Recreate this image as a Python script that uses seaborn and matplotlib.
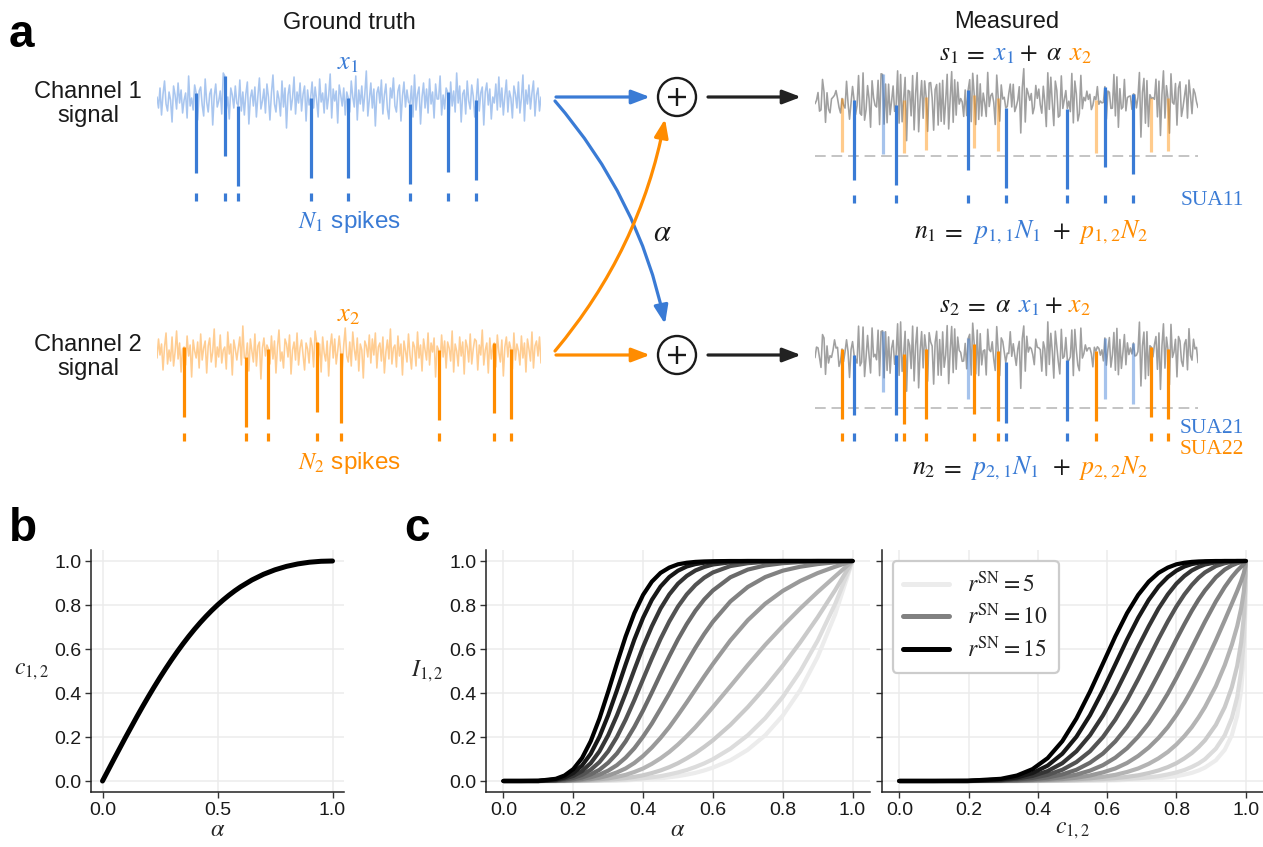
import numpy as np
import pandas as pd
import matplotlib
matplotlib.use("Agg")
import matplotlib.pyplot as plt
import seaborn as sns
from matplotlib.patches import Circle, FancyArrowPatch
from matplotlib.lines import Line2D

# ------------------------------------------------------------------
# Data: panels b and c
# ------------------------------------------------------------------
alpha_grid = [0.0, 0.05, 0.1, 0.15, 0.175, 0.2, 0.225, 0.25, 0.275, 0.3,
              0.325, 0.35, 0.375, 0.4, 0.425, 0.45, 0.475, 0.5, 0.525, 0.55,
              0.575, 0.6, 0.65, 0.7, 0.75, 0.8, 0.85, 0.9, 0.95, 1.0]
c12_values = [0.0, 0.0998, 0.198, 0.2934, 0.3396, 0.3846, 0.4283, 0.4706, 0.5113, 0.5505,
              0.5879, 0.6236, 0.6575, 0.6897, 0.72, 0.7484, 0.7751, 0.8, 0.8231, 0.8445,
              0.8643, 0.8824, 0.9139, 0.9396, 0.96, 0.9756, 0.9869, 0.9945, 0.9987, 1.0]
r_sn_levels = [5, 6, 7, 8, 9, 10, 11, 12, 13, 14, 15]
legend_levels = [5, 10, 15]

I_r05 = [0, 0, 0, 0, 0, 0, 0, 0.001, 0.001, 0.002, 0.002, 0.003, 0.005, 0.007, 0.009,
         0.012, 0.017, 0.022, 0.029, 0.037, 0.048, 0.061, 0.094, 0.142, 0.208, 0.297,
         0.413, 0.564, 0.757, 1.0]
I_r06 = [0, 0, 0, 0, 0, 0, 0.001, 0.001, 0.002, 0.003, 0.004, 0.006, 0.009, 0.012, 0.017,
         0.022, 0.030, 0.039, 0.050, 0.064, 0.080, 0.099, 0.147, 0.208, 0.286, 0.382,
         0.498, 0.638, 0.804, 1.0]
I_r07 = [0, 0, 0, 0, 0, 0.001, 0.001, 0.002, 0.004, 0.006, 0.009, 0.013, 0.019, 0.026, 0.036,
         0.048, 0.063, 0.081, 0.103, 0.127, 0.155, 0.185, 0.255, 0.336, 0.426, 0.524,
         0.630, 0.744, 0.867, 1.0]
I_r08 = [0, 0, 0, 0, 0.001, 0.001, 0.003, 0.005, 0.008, 0.012, 0.019, 0.028, 0.041, 0.057, 0.078,
         0.103, 0.132, 0.166, 0.204, 0.245, 0.290, 0.336, 0.431, 0.527, 0.619, 0.704,
         0.784, 0.859, 0.930, 1.0]
I_r09 = [0, 0, 0, 0.001, 0.001, 0.003, 0.005, 0.009, 0.015, 0.025, 0.039, 0.057, 0.082, 0.114, 0.152,
         0.196, 0.245, 0.300, 0.357, 0.416, 0.475, 0.532, 0.639, 0.731, 0.806, 0.864,
         0.909, 0.945, 0.974, 1.0]
I_r10 = [0, 0, 0, 0.001, 0.002, 0.005, 0.009, 0.017, 0.029, 0.047, 0.072, 0.106, 0.149, 0.202, 0.261,
         0.328, 0.397, 0.469, 0.539, 0.606, 0.668, 0.724, 0.816, 0.882, 0.927, 0.956,
         0.974, 0.986, 0.994, 1.0]
I_r11 = [0, 0, 0, 0.002, 0.004, 0.008, 0.016, 0.030, 0.051, 0.083, 0.125, 0.180, 0.246, 0.321, 0.402,
         0.486, 0.567, 0.644, 0.713, 0.774, 0.825, 0.866, 0.926, 0.961, 0.980, 0.990,
         0.995, 0.998, 0.999, 1.0]
I_r12 = [0, 0, 0, 0.003, 0.007, 0.014, 0.028, 0.051, 0.086, 0.135, 0.200, 0.279, 0.368, 0.463, 0.557,
         0.646, 0.725, 0.793, 0.848, 0.891, 0.924, 0.948, 0.977, 0.990, 0.996, 0.998,
         0.999, 1.0, 1.0, 1.0]
I_r13 = [0, 0, 0, 0.004, 0.011, 0.023, 0.045, 0.081, 0.135, 0.208, 0.298, 0.399, 0.506, 0.610, 0.703,
         0.784, 0.848, 0.897, 0.932, 0.957, 0.973, 0.984, 0.994, 0.998, 0.999, 1.0,
         1.0, 1.0, 1.0, 1.0]
I_r14 = [0, 0, 0, 0.007, 0.016, 0.036, 0.070, 0.124, 0.201, 0.299, 0.412, 0.530, 0.643, 0.742, 0.823,
         0.884, 0.927, 0.956, 0.975, 0.986, 0.992, 0.996, 0.999, 1.0, 1.0, 1.0,
         1.0, 1.0, 1.0, 1.0]
I_r15 = [0, 0, 0.001, 0.010, 0.025, 0.054, 0.104, 0.181, 0.284, 0.406, 0.534, 0.657, 0.763, 0.846, 0.906,
         0.946, 0.970, 0.985, 0.992, 0.996, 0.998, 0.999, 1.0, 1.0, 1.0, 1.0,
         1.0, 1.0, 1.0, 1.0]
I_curves = [I_r05, I_r06, I_r07, I_r08, I_r09, I_r10, I_r11, I_r12, I_r13, I_r14, I_r15]

# ------------------------------------------------------------------
# Data: panel a (noise traces in tenths of a noise unit, spike times)
# ------------------------------------------------------------------
x1_noise_tenths = [
    3, -8, 12, -15, 6, 19, -4, -11, 8, 0, -22, 14, 5, -9, 17, -3,
    10, -13, 0, 7, -18, 24, -6, 2, -10, 15, 7, -20, 9, 13, -5, -16,
    21, -2, -12, 6, 11, -25, 4, 16, -7, -1, 9, -14, 27, 24, -9, 3,
    -19, 12, 5, -8, 14, -3, -6, 20, -11, 8, -15, 6, 18, -24, 2, 10,
    -6, 13, -17, 4, 22, -9, -1, 11, -13, 16, 3, -20, 7, 25, -4, -12,
    9, 1, -16, 19, -7, 12, -28, 5, 15, -10, 2, 23, -14, 8, -3, 17,
    -11, 6, 14, -21, 10, -5, 2, 18, -8, 13, 0, -17, 21, -2, 7, -13,
    16, -9, 4, 26, -18, 11, -1, 9, -23, 15, 5, -6, 12, -15, 8, 2,
    -12, 19, 3, -7, 24, -20, 10, -4, 14, -11, 6, 29, -16, 1, 17, -8,
    11, -26, 7, 13, -3, 20, -14, 5, 16, -9, -19, 12, 2, 22, -6, -12,
    9, 15, -21, 4, 18, -7, 10, -2, -4, 14, -17, 25, -10, 6, 13, -24,
    3, 17, -8, 11, -13, 21, -4, 8, -18, 16, 1, 1, 24, -15, 5, -9,
    12, 8, -20, 18, -6, 9, -12, 27, -3, 14, -22, 6, 10, -14, 19, -1,
    -9, 15, 4, -17, 0, 21, -11, 7, 13, -25, 8, 17, -5, 11, -19, 3,
    -3, 16, -10, 23, -7, 12, -15, 4, 20, -12, 9, 2, -18, 14, 6, -8,
    18, -13, 2, 25, -21, 10, -4, 15, -9, 7, 19, -16, 5, 12, -11, 3]
x2_noise_tenths = [
    -5, 14, -2, 9, -17, 6, 20, -11, 3, -8, 16, -13, 1, 22, -6, 10,
    -19, 4, 6, -12, 17, -3, 8, -24, 13, 2, -5, 11, -15, 19, -7, 5,
    12, -20, 7, 15, -9, 1, 24, -14, 6, -4, 18, -10, 3, 6, -16, 21,
    -1, 9, -22, 13, 4, -7, 5, 16, -12, 27, -5, -4, 10, -18, 14, 2,
    -9, 19, -13, 7, 11, -26, 5, 15, -3, 8, 4, -11, 17, -6, 12, -20,
    6, 23, -8, 1, -15, 14, 9, -4, 18, -21, 3, 11, -7, 20, -12, 5,
    13, -2, -17, 10, 4, -10, 15, 7, -14, 22, 11, -6, 9, -19, 16, 0,
    -8, 12, -23, 6, 19, -5, 14, -11, 2, 17, 0, -16, 8, 25, -3, -9,
    11, -13, 21, 4, -7, 15, -18, 9, 3, -25, 12, 7, -4, 18, -10, 14,
    -2, 20, -15, 6, 10, -8, 16, -20, 1, 13, -6, 24, -11, 5, 8, -14,
    17, -3, 9, -22, 12, 2, -9, 19, -2, -16, 11, 6, -13, 21, -5, 8,
    -18, 14, 3, -7, 20, -12, 10, 1, 15, -24, 7, 3, -10, 18, -4, 12,
    -15, 11, 5, -8, 22, -19, 9, 2, -13, 16, -3, 11, -21, 13, 6, -9,
    19, -11, 4, 14, 12, -17, 8, -2, 23, -12, 3, 10, -20, 15, -6, 7,
    10, -14, 18, 1, -9, 13, -23, 6, 16, -4, 11, 4, -16, 20, -7, 9,
    2, -12, 17, -5, 10, -19, 14, 4, -8, 21, -15, 7, 12, -3, 16, -10]
spike_idx_ch1 = [26, 45, 54, 102, 127, 168, 193, 212]
spike_idx_ch2 = [18, 59, 74, 106, 122, 187, 224, 235]
spike_amp_ch1 = 8.0
spike_amp_ch2 = 7.0
mix_alpha = 0.76
threshold = -5.3

# ------------------------------------------------------------------
# Style
# ------------------------------------------------------------------
sns.set_theme(style="ticks")
plt.rcParams['font.family'] = ['Liberation Sans', 'DejaVu Sans']
plt.rcParams['mathtext.fontset'] = 'stix'

BLUE = '#3a7bd5'
ORANGE = '#ff8c00'
LBLUE = '#a9c6ef'
LORANGE = '#ffcd92'
GRAY = '#a0a0a0'
K = '#1a1a1a'

W, H = 1263, 847
fig = plt.figure(figsize=(W / 100, H / 100), dpi=100)

# ------------------------------------------------------------------
# Panel a: traces
# ------------------------------------------------------------------
x1 = np.array(x1_noise_tenths) / 10.0
x2 = np.array(x2_noise_tenths) / 10.0
N = len(x1)
t = np.arange(N)
s1 = x1 + mix_alpha * x2
s2 = mix_alpha * x1 + x2
i1 = np.array(spike_idx_ch1)
i2 = np.array(spike_idx_ch2)


def trace_ax(px0, px1, yc):
    top, bottom = yc - 60, yc + 120
    ax = fig.add_axes([px0 / W, 1 - bottom / H, (px1 - px0) / W, (bottom - top) / H])
    ax.set_xlim(0, N - 1)
    ax.set_ylim(-12, 6)
    ax.axis('off')
    return ax


def raster(ax, idx, y0, col):
    if len(idx):
        ax.vlines(idx, y0, y0 - 0.8, color=col, lw=2.3)


# ground truth channel 1
ax = trace_ax(157, 541, 100)
ax.plot(t, x1, color=LBLUE, lw=1.15)
ax.vlines(i1, x1[i1], x1[i1] - spike_amp_ch1, color=BLUE, lw=2.3)
raster(ax, i1, -9.3, BLUE)

# ground truth channel 2
ax = trace_ax(157, 541, 353)
ax.plot(t, x2, color=LORANGE, lw=1.15)
ax.vlines(i2, x2[i2], x2[i2] - spike_amp_ch2, color=ORANGE, lw=2.3)
raster(ax, i2, -8.0, ORANGE)


def measured(yc, sig, amp_b, amp_o, tick_y, ticks_orange):
    ax = trace_ax(815, 1198, yc)
    ax.plot(t, sig, color=GRAY, lw=1.15)
    ax.axhline(threshold, color='#c4c4c4', lw=1.4, ls=(0, (5.5, 3)))
    det_b, det_o = [], []
    for idx, amp, col, det in ((i2, amp_o, ORANGE, det_o), (i1, amp_b, BLUE, det_b)):
        for i in idx:
            bot = sig[i] - amp
            hit = bot < threshold
            ax.vlines(i, sig[i], bot, color=col, lw=2.3, alpha=1.0 if hit else 0.45)
            if hit:
                det.append(i)
    raster(ax, det_b, tick_y, BLUE)
    if ticks_orange:
        raster(ax, det_o, tick_y, ORANGE)


measured(103, s1, spike_amp_ch1, mix_alpha * spike_amp_ch2, -9.2, False)
measured(355, s2, mix_alpha * spike_amp_ch1, spike_amp_ch2, -7.8, True)

# ------------------------------------------------------------------
# Panel b
# ------------------------------------------------------------------
def style_axes(ax):
    ax.set_xlim(-0.05, 1.05)
    ax.set_ylim(-0.05, 1.05)
    ax.grid(True, color='#ececec', lw=1.1)
    ax.set_axisbelow(True)
    for s in ('top', 'right'):
        ax.spines[s].set_visible(False)
    for s in ('left', 'bottom'):
        ax.spines[s].set_color('#222222')
        ax.spines[s].set_linewidth(1.1)
    ax.tick_params(direction='out', length=4, width=1, color='#333333',
                   labelcolor='#1a1a1a', labelsize=14, pad=3)
    ax.set_yticks([0, 0.2, 0.4, 0.6, 0.8, 1.0])


ax_b = fig.add_axes([91 / W, (H - 792) / H, 253 / W, 242 / H])
df_b = pd.DataFrame({'alpha': alpha_grid, 'c12': c12_values})
sns.lineplot(data=df_b, x='alpha', y='c12', color='black', lw=3.6,
             estimator=None, ax=ax_b)
style_axes(ax_b)
ax_b.set_xticks([0, 0.5, 1.0])
ax_b.set_xlabel(r'$\alpha$', fontsize=17.5, va='center')
ax_b.xaxis.set_label_coords(0.5, -0.158)
ax_b.set_ylabel(r'$c_{1,2}$', fontsize=17, rotation=0, ha='center', va='center')
ax_b.yaxis.set_label_coords(-0.233, 0.5)

# ------------------------------------------------------------------
# Panel c
# ------------------------------------------------------------------
rows = []
for r, vals in zip(r_sn_levels, I_curves):
    for a, c, v in zip(alpha_grid, c12_values, vals):
        rows.append({'r': r, 'alpha': a, 'c12': c, 'I': v})
df_c = pd.DataFrame(rows)
greys = plt.cm.Greys(np.linspace(0.15, 1.0, len(r_sn_levels)))
pal = {r: greys[k] for k, r in enumerate(r_sn_levels)}

ax_c1 = fig.add_axes([486 / W, (H - 792) / H, 384 / W, 242 / H])
sns.lineplot(data=df_c, x='alpha', y='I', hue='r', hue_order=r_sn_levels,
             palette=pal, lw=3.0, estimator=None, legend=False, ax=ax_c1)
style_axes(ax_c1)
ax_c1.set_xticks([0, 0.2, 0.4, 0.6, 0.8, 1.0])
ax_c1.set_xlabel(r'$\alpha$', fontsize=17.5, va='center')
ax_c1.xaxis.set_label_coords(0.5, -0.158)
ax_c1.set_ylabel(r'$I_{1,2}$', fontsize=17, rotation=0, ha='center', va='center')
ax_c1.yaxis.set_label_coords(-0.152, 0.5)

ax_c2 = fig.add_axes([882 / W, (H - 792) / H, 381 / W, 242 / H])
sns.lineplot(data=df_c, x='c12', y='I', hue='r', hue_order=r_sn_levels,
             palette=pal, lw=3.0, estimator=None, legend=False, ax=ax_c2)
style_axes(ax_c2)
ax_c2.set_xticks([0, 0.2, 0.4, 0.6, 0.8, 1.0])
ax_c2.tick_params(labelleft=False)
ax_c2.set_ylabel('')
ax_c2.set_xlabel(r'$c_{1,2}$', fontsize=17, va='center')
ax_c2.xaxis.set_label_coords(0.5, -0.155)
handles = [Line2D([], [], color=pal[r], lw=3.6) for r in legend_levels]
labels = [r'$r^{\rm SN} = %d$' % r for r in legend_levels]
leg = ax_c2.legend(handles, labels, loc='upper left', fontsize=17, frameon=True,
                   handlelength=1.95, handletextpad=0.75, labelspacing=0.3,
                   borderpad=0.45, borderaxespad=0.45, fancybox=True,
                   edgecolor='#cccccc', framealpha=1.0)
leg.get_frame().set_linewidth(1.6)

# ------------------------------------------------------------------
# Overlay: texts, arrows, adders
# ------------------------------------------------------------------
ov = fig.add_axes([0, 0, 1, 1], zorder=10)
ov.set_xlim(0, W)
ov.set_ylim(H, 0)
ov.axis('off')

ov.text(9, 47, 'a', fontsize=33, fontweight='bold', color='black', ha='left', va='baseline')
ov.text(9, 541, 'b', fontsize=33, fontweight='bold', color='black', ha='left', va='baseline')
ov.text(404, 541, 'c', fontsize=33, fontweight='bold', color='black', ha='left', va='baseline')

ov.text(349, 29, 'Ground truth', fontsize=17, color=K, ha='center', va='baseline')
ov.text(1007, 28, 'Measured', fontsize=17, color=K, ha='center', va='baseline')
for yb, lab in ((98, 'Channel 1'), (122, 'signal'), (351, 'Channel 2'), (375, 'signal')):
    ov.text(88, yb, lab, fontsize=17, color=K, ha='center', va='baseline')

ov.text(348, 69, r'$x_1$', fontsize=19, color=BLUE, ha='center', va='baseline')
ov.text(349, 321, r'$x_2$', fontsize=19, color=ORANGE, ha='center', va='baseline')
ov.text(349, 228, r'$N_1$ spikes', fontsize=17.5, color=BLUE, ha='center', va='baseline')
ov.text(349, 469, r'$N_2$ spikes', fontsize=17.5, color=ORANGE, ha='center', va='baseline')

ov.text(1212, 205, 'SUA11', fontsize=15.5, color=BLUE, family='Liberation Serif',
        ha='center', va='baseline')
ov.text(1212, 433, 'SUA21', fontsize=15.5, color=BLUE, family='Liberation Serif',
        ha='center', va='baseline')
ov.text(1212, 454, 'SUA22', fontsize=15.5, color=ORANGE, family='Liberation Serif',
        ha='center', va='baseline')

renderer = fig.canvas.get_renderer()


def colored_text(xc, yb, pieces, size=18.5):
    objs = []
    total = 0.0
    for s, col, gap in pieces:
        tx = ov.text(0, yb, s, color=col, fontsize=size, ha='left', va='baseline')
        w = tx.get_window_extent(renderer=renderer).width
        objs.append((tx, w, gap))
        total += w + gap
    total -= pieces[-1][2]
    x = xc - total / 2.0
    for tx, w, gap in objs:
        tx.set_x(x)
        x += w + gap


colored_text(1015, 60, [(r'$s_1$', K, 5), (r'$=$', K, 8), (r'$x_1$', BLUE, 5),
                        (r'$+$', K, 8), (r'$\alpha$', K, 7), (r'$x_2$', ORANGE, 0)])
colored_text(1031, 238, [(r'$n_1$', K, 5), (r'$=$', K, 9), (r'$p_{1,1}N_1$', BLUE, 12),
                         (r'$+$', K, 8), (r'$p_{1,2}N_2$', ORANGE, 0)])
colored_text(1015, 312, [(r'$s_2$', K, 5), (r'$=$', K, 8), (r'$\alpha$', K, 7),
                         (r'$x_1$', BLUE, 5), (r'$+$', K, 6), (r'$x_2$', ORANGE, 0)])
colored_text(1030, 474, [(r'$n_2$', K, 4), (r'$=$', K, 9), (r'$p_{2,1}N_1$', BLUE, 14),
                         (r'$+$', K, 8), (r'$p_{2,2}N_2$', ORANGE, 0)])


def arrow(p0, p1, col, rad=0.0):
    a = FancyArrowPatch(p0, p1, arrowstyle='-|>,head_length=0.55,head_width=0.21',
                        mutation_scale=20, lw=2.3, color=col, shrinkA=0, shrinkB=0,
                        connectionstyle='arc3,rad=%g' % rad)
    ov.add_patch(a)


arrow((556, 97), (650, 97), BLUE)
arrow((556, 355), (650, 355), ORANGE)
arrow((555, 101), (665, 324), BLUE, rad=-0.13)
arrow((555, 351), (665, 119), ORANGE, rad=0.13)
arrow((708, 97), (801, 97), '#222222')
arrow((708, 355), (801, 355), '#222222')

for yc in (97, 355):
    ov.add_patch(Circle((677, yc), 19, fill=False, lw=1.7, ec='#1a1a1a'))
    ov.plot([668, 686], [yc, yc], color='#1a1a1a', lw=1.7, solid_capstyle='butt')
    ov.plot([677, 677], [yc - 9, yc + 9], color='#1a1a1a', lw=1.7, solid_capstyle='butt')

ov.text(662, 233, r'$\alpha$', fontsize=22, color=K, ha='center', va='center')

fig.savefig('out.png', dpi=100)
